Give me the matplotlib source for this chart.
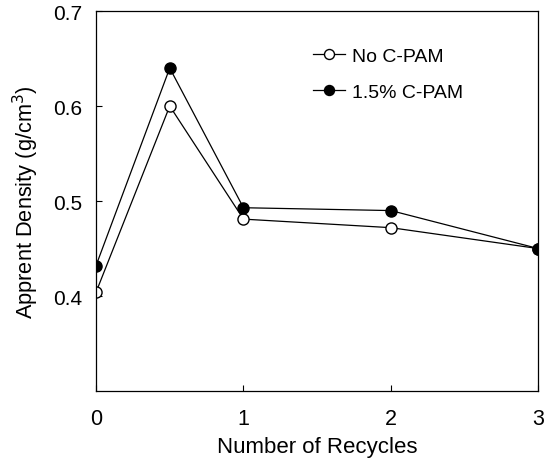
import matplotlib.pyplot as plt

plt.rcParams['font.family'] = ['Liberation Sans', 'DejaVu Sans']

recycles = [0, 0.5, 1, 2, 3]
no_cpam = [0.404, 0.600, 0.481, 0.472, 0.450]
cpam_15 = [0.432, 0.640, 0.493, 0.490, 0.450]

fig = plt.figure(figsize=(5.55, 4.64), dpi=100)
ax = fig.add_axes([0.173, 0.155, 0.797, 0.819])

ax.plot(recycles, no_cpam, color='black', lw=0.9, marker='o', ms=8,
        mfc='white', mec='black', mew=1.0, label='No C-PAM')
ax.plot(recycles, cpam_15, color='black', lw=0.9, marker='o', ms=8,
        mfc='black', mec='black', label='1.5% C-PAM')

ax.set_xlim(0, 3)
ax.set_ylim(0.3, 0.7)
ax.set_xticks([0, 1, 2, 3])
ax.set_yticks([0.4, 0.5, 0.6, 0.7])
ax.set_yticklabels(['0.4', '0.5', '0.6', '0.7'])
ax.tick_params(direction='in', length=4, labelsize=15, pad=10)
ax.tick_params(axis='x', labelsize=15.5, pad=12)
for s in ax.spines.values():
    s.set_linewidth(0.9)

ax.set_xlabel('Number of Recycles', fontsize=16, labelpad=5)
ax.set_ylabel('Apprent Density (g/cm$^3$)', fontsize=15.7, labelpad=9)

ax.legend(loc='upper left', bbox_to_anchor=(0.452, 0.95), frameon=False,
          fontsize=14, handlelength=1.6, handletextpad=0.4, labelspacing=0.95,
          markerscale=0.9)

fig.savefig('out.png', dpi=100)
